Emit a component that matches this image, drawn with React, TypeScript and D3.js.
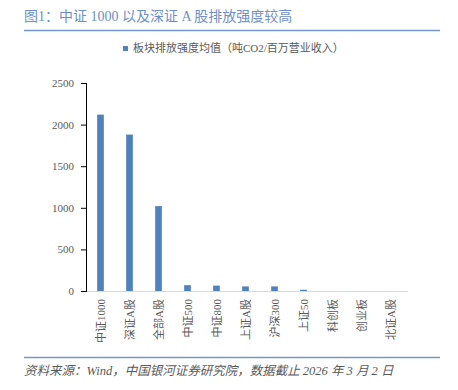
import React from "react";
import * as d3 from "d3";

const categories = ["中证1000", "深证A股", "全部A股", "中证500", "中证800", "上证A股", "沪深300", "上证50", "科创板", "创业板", "北证A股"];
const values = [2120, 1880, 1020, 70, 65, 55, 55, 15, 0, 0, 0];
const yTicks = [0, 500, 1000, 1500, 2000, 2500];
const seriesName = "板块排放强度均值（吨CO2/百万营业收入）";
const title = "图1：中证 1000 以及深证 A 股排放强度较高";
const source = "资料来源：Wind，中国银河证券研究院，数据截止 2026 年 3 月 2 日";

const W = 458, H = 390;
const left = 86, right = 405, top = 83, bottom = 291;
const serif = "'Liberation Serif', 'Times New Roman', 'Noto Sans CJK SC', serif";
const barColor = "#4F81BD";
const lineColor = "#7496CC";
const textColor = "#595959";

export default function App() {
  const x = d3.scaleBand<string>().domain(categories).range([left, right]).paddingInner(0.77).paddingOuter(0.385);
  const y = d3.scaleLinear().domain([0, 2500]).range([bottom, top]);
  return (
    <svg width={W} height={H} style={{ position: "absolute", left: 0, top: 0, background: "#fff" }}>
      <text x={24} y={21} fontSize={14} fill="#6E8FC9" fontFamily={serif}>{title}</text>
      <line x1={24} x2={440} y1={30.5} y2={30.5} stroke={lineColor} strokeWidth={1.5} />
      <rect x={123} y={46} width={5} height={5} fill={barColor} />
      <text x={133} y={52} fontSize={11} fill={textColor} fontFamily={serif}>{seriesName}</text>
      {yTicks.map(t => (
        <g key={t}>
          <line x1={81} x2={left} y1={y(t) + 0.5} y2={y(t) + 0.5} stroke="#000" />
          <text x={74} y={y(t) + 4} fontSize={11} fill={textColor} textAnchor="end" fontFamily={serif}>{t}</text>
        </g>
      ))}
      <line x1={left} x2={right + 3} y1={bottom + 0.5} y2={bottom + 0.5} stroke="#D9D9D9" />
      <line x1={left + 0.5} x2={left + 0.5} y1={top} y2={bottom + 1} stroke="#000" />
      {categories.map((c, i) => {
        const v = values[i];
        const h = bottom - y(v);
        return h > 0 ? (
          <rect key={c} x={x(c)} y={y(v)} width={x.bandwidth()} height={h} fill={barColor} />
        ) : null;
      })}
      {categories.map(c => {
        const cx = (x(c) as number) + x.bandwidth() / 2 + 4;
        return (
          <text key={c} transform={`translate(${cx},${299}) rotate(-90)`} fontSize={11} fill={textColor} textAnchor="end" fontFamily={serif}>{c}</text>
        );
      })}
      <line x1={24} x2={440} y1={357.5} y2={357.5} stroke={lineColor} strokeWidth={1.5} />
      <text x={24} y={375} fontSize={12.5} fill={textColor} fontStyle="italic" fontFamily={serif}>{source}</text>
    </svg>
  );
}
